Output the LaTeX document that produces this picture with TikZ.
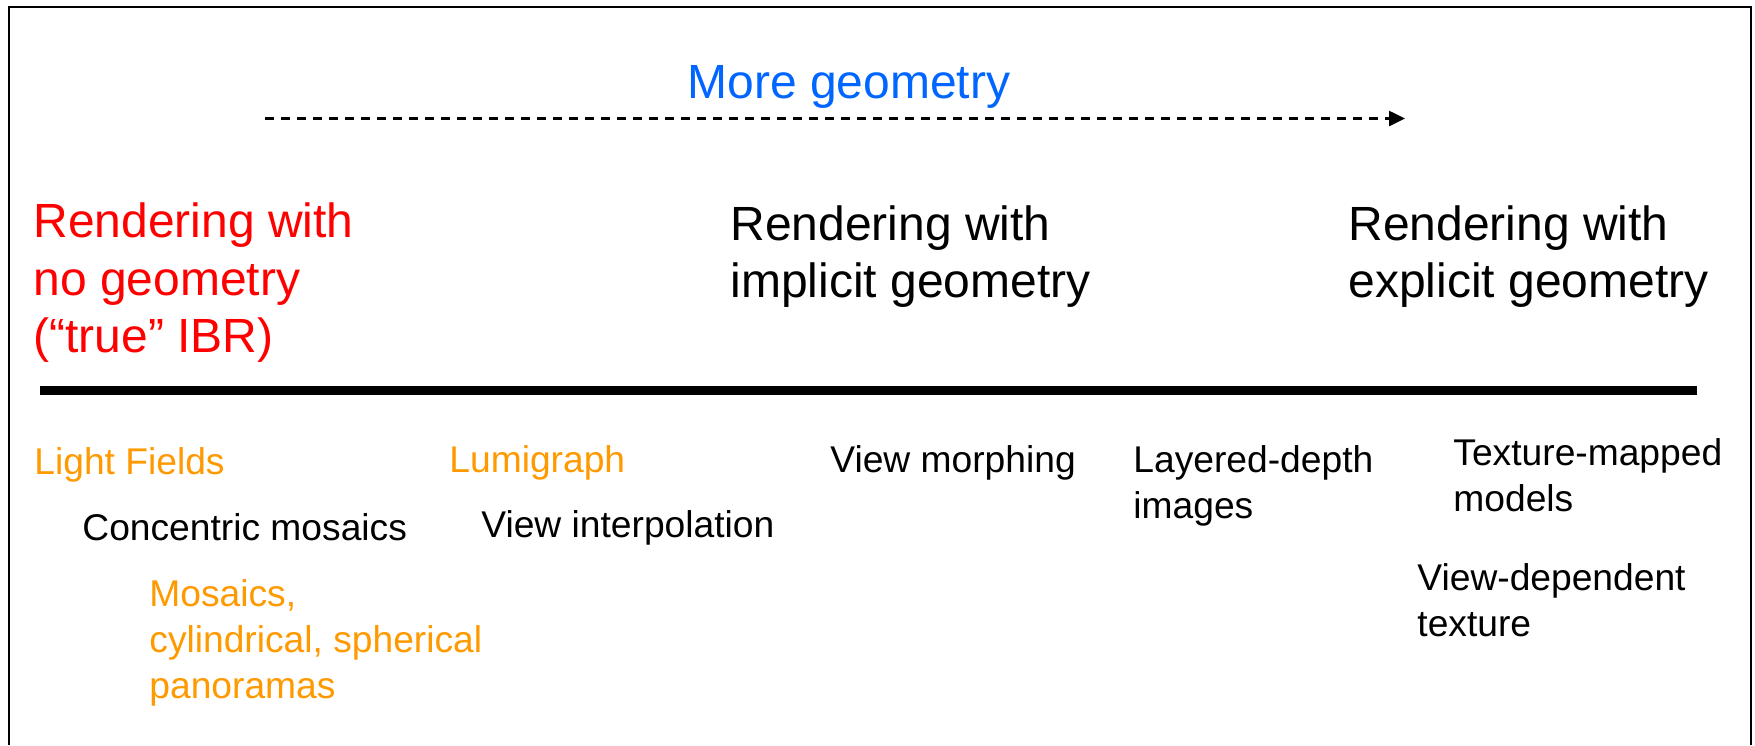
\documentclass[tikz,border=0pt]{standalone}
\usepackage{fontspec}
\setmainfont{Liberation Sans}
\usetikzlibrary{arrows.meta}
\definecolor{ibrred}{RGB}{255,0,0}
\definecolor{ibrblue}{RGB}{0,102,255}
\definecolor{ibrorange}{RGB}{255,153,0}
\tikzset{
  bigtext/.style={anchor=base west, inner sep=0pt, font=\fontsize{24pt}{28.75pt}\selectfont},
  smalltext/.style={anchor=base west, inner sep=0pt, font=\fontsize{18.6pt}{23pt}\selectfont},
  frameline/.style={line width=1pt, black},
  axisline/.style={line width=4.5pt, black},
  morearrow/.style={line width=1.25pt, dash pattern=on 4.5pt off 3.5pt, -{Triangle[length=8pt,width=7.5pt]}}
}
\newcommand{\mylines}[1]{\begin{tabular}[t]{@{}l@{}}#1\end{tabular}}
\begin{document}
\begin{tikzpicture}[x=0.5pt,y=-0.5pt]
\useasboundingbox (0,0) rectangle (1755,745);
% frame (bottom edge lies below the picture)
\draw[frameline] (9,745) -- (9,6.5) -- (1751,6.5) -- (1751,745);
% top arrow
\node[bigtext, text=ibrblue] (more) at (687,98) {More geometry};
\coordinate (arrS) at (265,118.5);
\coordinate (arrE) at (1405,118.5);
\draw[morearrow] (arrS) -- (arrE);
% category headings
\node[bigtext, text=ibrred] (nogeo) at (33,237.5) {\mylines{Rendering with\\no geometry\\(“true” IBR)}};
\node[bigtext] (impl) at (730,240) {\mylines{Rendering with\\implicit geometry}};
\node[bigtext] (expl) at (1348,240) {\mylines{Rendering with\\explicit geometry}};
% axis line
\coordinate (axS) at (40,390.5);
\coordinate (axE) at (1697,390.5);
\draw[axisline] (axS) -- (axE);
% techniques
\node[smalltext, text=ibrorange] (lf) at (34,474) {Light Fields};
\node[smalltext] (cm) at (82,540) {Concentric mosaics};
\node[smalltext, text=ibrorange] (mos) at (149,606) {\mylines{Mosaics,\\cylindrical, spherical\\panoramas}};
\node[smalltext, text=ibrorange] (lumi) at (449,472) {Lumigraph};
\node[smalltext] (vi) at (481,537) {View interpolation};
\node[smalltext] (vm) at (830,472) {View morphing};
\node[smalltext] (ldi) at (1133,472) {\mylines{Layered-depth\\images}};
\node[smalltext] (tmm) at (1453,465) {\mylines{Texture-mapped\\models}};
\node[smalltext] (vdt) at (1417,590) {\mylines{View-dependent\\texture}};
\end{tikzpicture}
\end{document}
